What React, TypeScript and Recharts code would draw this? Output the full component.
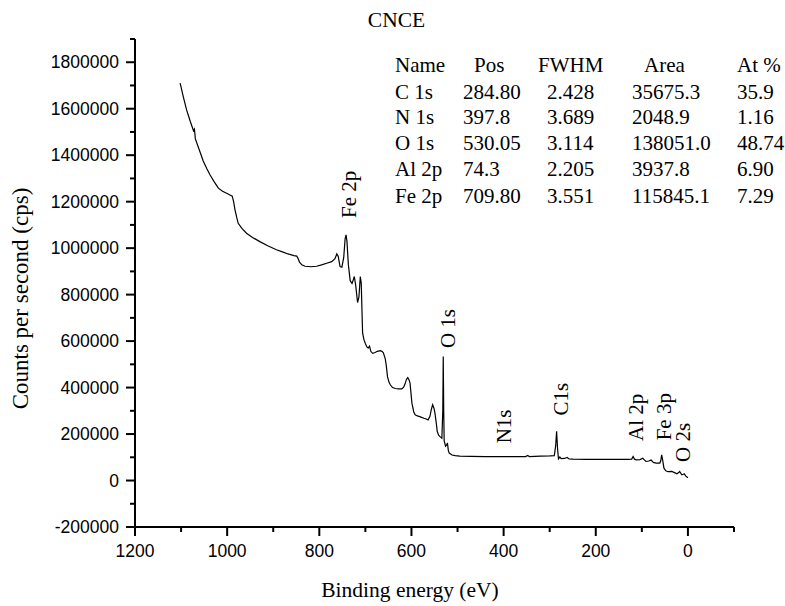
import { LineChart, Line, XAxis, YAxis, ReferenceDot } from 'recharts';

// survey spectrum (binding energy in eV, counts per second)
const bindingEnergy = [
  1102, 1095, 1088, 1080, 1073, 1071, 1069, 1060, 1052, 1044, 1037, 1028, 1019, 1010, 1000,
  994, 989, 986, 983, 979, 976, 968, 958, 945, 929, 912, 893, 880, 868, 855, 849, 846, 843,
  838, 831, 818, 806, 795, 784, 773, 766, 762, 759, 755, 751, 747, 744, 742, 740, 737, 733,
  729, 726, 724, 721, 717, 714, 711, 709, 707, 706, 703, 700, 697, 694, 691, 688, 684, 679,
  674, 668, 664, 661, 657, 655, 652, 649, 646, 641, 635, 628, 621, 617, 614, 611, 608, 605,
  603, 601, 599, 595, 592, 587, 582, 578, 573, 568, 564, 560, 557, 554, 551, 549, 546, 544,
  541, 538, 534, 532, 531, 530, 529, 526, 523, 522, 520, 518, 512, 505, 495, 470, 440, 410,
  380, 352, 348, 344, 320, 300, 290, 287, 285, 283, 281, 278, 275, 268, 262, 258, 249, 220,
  190, 160, 130, 122, 119, 116, 112, 104, 98, 94, 91, 85, 80, 75, 69, 61, 59, 57, 55, 52, 48,
  43, 35, 28, 24, 20, 18, 15, 13, 10, 8, 5, 2, 0,
];
const counts = [
  1710000, 1650000, 1595000, 1545000, 1505000, 1512000, 1470000, 1420000, 1375000, 1342000,
  1315000, 1285000, 1258000, 1245000, 1235000, 1229000, 1224000, 1200000, 1165000, 1130000,
  1107000, 1085000, 1064000, 1046000, 1028000, 1010000, 993000, 984000, 975000, 968000, 966000,
  955000, 940000, 928000, 922000, 920000, 922000, 928000, 935000, 942000, 955000, 975000,
  965000, 921000, 918000, 960000, 1040000, 1057000, 1030000, 930000, 860000, 848000, 865000,
  878000, 840000, 766000, 790000, 878000, 850000, 700000, 634000, 605000, 590000, 576000,
  570000, 578000, 555000, 547000, 551000, 556000, 559000, 556000, 550000, 525000, 500000,
  447000, 425000, 412000, 400000, 396000, 394000, 394000, 402000, 415000, 435000, 443000,
  432000, 418000, 375000, 333000, 295000, 283000, 278000, 275000, 272000, 268000, 265000,
  261000, 275000, 305000, 326000, 310000, 290000, 245000, 211000, 195000, 189000, 182000,
  300000, 534000, 300000, 170000, 148000, 155000, 162000, 130000, 118000, 110000, 107000,
  105000, 104000, 103000, 103000, 103000, 103000, 108000, 103000, 105000, 106000, 107000,
  150000, 212000, 140000, 93000, 101000, 94000, 95000, 99000, 93000, 92000, 91000, 91000,
  91000, 91000, 92000, 103000, 92000, 89000, 90000, 96000, 88000, 82000, 84000, 88000, 78000,
  75000, 75000, 85000, 110000, 90000, 53000, 42000, 38000, 39000, 33000, 29000, 34000, 39000,
  30000, 25000, 27000, 29000, 20000, 15000, 12000,
];

const xTicks = [1200, 1100, 1000, 900, 800, 700, 600, 500, 400, 300, 200, 100, 0, -100];
const xMajor = [1200, 1000, 800, 600, 400, 200, 0];
const yTicks = [
  -200000, -100000, 0, 100000, 200000, 300000, 400000, 500000, 600000, 700000, 800000,
  900000, 1000000, 1100000, 1200000, 1300000, 1400000, 1500000, 1600000, 1700000, 1800000,
  1900000,
];
const yMajor = [-200000, 0, 200000, 400000, 600000, 800000, 1000000, 1200000, 1400000, 1600000, 1800000];

const peakNames = ['Fe 2p', 'O 1s', 'N1s', 'C1s', 'Al 2p', 'Fe 3p', 'O 2s'];
const peakNameEnergy = [720, 505, 383, 260, 97, 37, -5];
const peakNameCounts = [1130000, 570000, 160000, 280000, 170000, 173000, 80000];

const tableHeader = ['Name', 'Pos', 'FWHM', 'Area', 'At %'];
const tableName = ['C 1s', 'N 1s', 'O 1s', 'Al 2p', 'Fe 2p'];
const tablePos = ['284.80', '397.8', '530.05', '74.3', '709.80'];
const tableFwhm = ['2.428', '3.689', '3.114', '2.205', '3.551'];
const tableArea = ['35675.3', '2048.9', '138051.0', '3937.8', '115845.1'];
const tableAt = ['35.9', '1.16', '48.74', '6.90', '7.29'];

const data = bindingEnergy.map((be, i) => ({ be, cps: counts[i] }));

const SERIF = '"Liberation Serif", "Times New Roman", serif';
const SANS = '"Liberation Sans", Arial, sans-serif';
const TICK = 9;
const TICK_MARGIN = 6;

const XTick = (props: any) => {
  const { x, y, payload } = props;
  const major = xMajor.includes(payload.value);
  const axisY = y - TICK - TICK_MARGIN;
  return (
    <g>
      <line x1={x} x2={x} y1={axisY} y2={axisY + (major ? TICK : 5)} stroke="#000" strokeWidth={2} />
      {major && (
        <text x={x} y={axisY + 30} textAnchor="middle" fontFamily={SANS} fontSize={17.5} fill="#000">
          {payload.value}
        </text>
      )}
    </g>
  );
};

const YTick = (props: any) => {
  const { x, y, payload } = props;
  const major = yMajor.includes(payload.value);
  const axisX = x + TICK + TICK_MARGIN;
  return (
    <g>
      <line x1={axisX} x2={axisX - (major ? TICK : 5)} y1={y} y2={y} stroke="#000" strokeWidth={2} />
      {major && (
        <text x={axisX - 16} y={y + 6.2} textAnchor="end" fontFamily={SANS} fontSize={17.5} fill="#000">
          {payload.value}
        </text>
      )}
    </g>
  );
};

const peakShape = (name: string) => (props: any) => (
  <text
    x={props.cx}
    y={props.cy}
    transform={`rotate(-90 ${props.cx} ${props.cy})`}
    fontFamily={SERIF}
    fontSize={21}
    fill="#000"
  >
    {name}
  </text>
);

const colX = [395, 463, 547, 632, 737];
const headX = [395, 474, 538, 644, 737];
const rowY = [72, 98.5, 124, 150, 176, 202.5];

export default function App() {
  const rows = tableName.map((n, i) => [n, tablePos[i], tableFwhm[i], tableArea[i], tableAt[i]]);
  return (
    <div style={{ position: 'absolute', left: 0, top: 0, width: 785, height: 606, background: '#fff' }}>
      <LineChart width={785} height={606} data={data} margin={{ top: 39, right: 51, bottom: 0, left: 0 }}>
        <XAxis
          type="number"
          dataKey="be"
          domain={[-100, 1200]}
          reversed
          ticks={xTicks}
          interval={0}
          height={79}
          tickSize={TICK}
          tickMargin={TICK_MARGIN}
          tickLine={false}
          tick={<XTick />}
          axisLine={{ stroke: '#000', strokeWidth: 2 }}
          allowDataOverflow
        />
        <YAxis
          type="number"
          domain={[-200000, 1900000]}
          ticks={yTicks}
          interval={0}
          width={135}
          tickSize={TICK}
          tickMargin={TICK_MARGIN}
          tickLine={false}
          tick={<YTick />}
          axisLine={{ stroke: '#000', strokeWidth: 2 }}
          allowDataOverflow
        />
        <Line
          type="linear"
          dataKey="cps"
          stroke="#000"
          strokeWidth={1.2}
          dot={false}
          isAnimationActive={false}
        />
        {peakNames.map((name, i) => (
          <ReferenceDot
            key={name}
            x={peakNameEnergy[i]}
            y={peakNameCounts[i]}
            r={0}
            ifOverflow="visible"
            shape={peakShape(name)}
          />
        ))}
      </LineChart>
      <svg
        width={785}
        height={606}
        style={{ position: 'absolute', left: 0, top: 0, pointerEvents: 'none' }}
      >
        <text x={396.5} y={26.5} textAnchor="middle" fontFamily={SERIF} fontSize={21.5} fill="#000">
          CNCE
        </text>
        {tableHeader.map((h, j) => (
          <text key={h} x={headX[j]} y={rowY[0]} fontFamily={SERIF} fontSize={21} fill="#000">
            {h}
          </text>
        ))}
        {rows.map((r, i) =>
          r.map((v, j) => (
            <text key={`${i}-${j}`} x={colX[j]} y={rowY[i + 1]} fontFamily={SERIF} fontSize={21} fill="#000">
              {v}
            </text>
          ))
        )}
        <text x={410} y={597} textAnchor="middle" fontFamily={SERIF} fontSize={21.5} fill="#000">
          Binding energy (eV)
        </text>
        <text
          x={28}
          y={298.5}
          textAnchor="middle"
          transform="rotate(-90 28 298.5)"
          fontFamily={SERIF}
          fontSize={23}
          fill="#000"
        >
          Counts per second (cps)
        </text>
      </svg>
    </div>
  );
}
